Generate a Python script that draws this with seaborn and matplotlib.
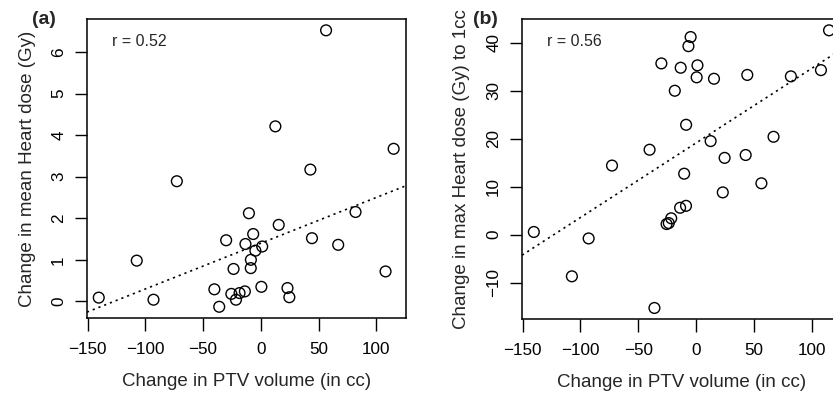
import matplotlib
matplotlib.use("Agg")
import matplotlib.pyplot as plt
import numpy as np
import seaborn as sns

# change in PTV volume (cc), shared by both panels
ptv_change = [115, 108, 82, 67, 56.5, 44.3, 42.9, 24.7, 23.1, 15.5, 12.6,
              1.2, 0.5, -4.7, -6.6, -8.6, -8.7, -10.3, -13.3, -13.8, -18.4,
              -21.5, -23.6, -25.5, -30.0, -36.0, -40.2, -72.7, -92.9, -107.4, -140.3]
# change in mean heart dose (Gy)
mean_heart = [3.67, 0.72, 2.15, 1.36, 6.52, 1.52, 3.17, 0.10, 0.32, 1.84, 4.21,
              1.32, 0.35, 1.22, 1.62, 1.00, 0.80, 2.12, 1.38, 0.24, 0.20,
              0.04, 0.78, 0.18, 1.47, -0.13, 0.29, 2.89, 0.04, 0.98, 0.09]
# change in max heart dose (Gy) to 1cc
max_heart = [42.6, 34.3, 33.0, 20.4, 10.7, 33.3, 16.6, 16.0, 8.8, 32.5, 19.5,
             35.3, 32.8, 41.2, 39.3, 22.9, 6.0, 12.7, 34.8, 5.6, 30.0,
             3.4, 2.4, 2.2, 35.7, -15.3, 17.7, 14.4, -0.8, -8.7, 0.55]

x_ticks = [-150, -100, -50, 0, 50, 100]
a_yticks = [0, 1, 2, 3, 4, 5, 6]
b_yticks = [-10, 0, 10, 20, 30, 40]

sns.set_style("ticks")
plt.rcParams['font.family'] = ['Liberation Sans', 'DejaVu Sans']
plt.rcParams['axes.edgecolor'] = 'black'
plt.rcParams['xtick.color'] = 'black'
plt.rcParams['ytick.color'] = 'black'


def panel(ax, y, yticks, ylim, ylabel, r_text, tag, tag_x, ylabelpad):
    x = np.array(ptv_change)
    y = np.array(y)
    ax.set_xlim(-150.5, 125.7)
    ax.set_ylim(*ylim)
    sns.regplot(x=x, y=y, ax=ax, ci=None, truncate=False,
                scatter_kws=dict(color='black', facecolors='none', edgecolors='black',
                                 s=60, linewidths=1.0, alpha=1),
                line_kws=dict(color='black', linestyle=(0, (1.3, 2.4)), linewidth=1.2))
    ax.set_xlim(-150.5, 125.7)
    ax.set_ylim(*ylim)
    ax.set_xticks(x_ticks)
    ax.set_xticklabels([str(t).replace('-', '\u2212') for t in x_ticks])
    ax.set_yticks(yticks)
    ax.set_yticklabels([str(t).replace('-', '\u2212') for t in yticks],
                       rotation=90, va='center')
    ax.tick_params(length=9, width=1.0, labelsize=12.3)
    ax.tick_params(axis='x', pad=8)
    ax.tick_params(axis='y', pad=6)
    for s in ax.spines.values():
        s.set_linewidth(1.1)
        s.set_visible(True)
    ax.set_xlabel('Change in PTV volume (in cc)', fontsize=13.5, labelpad=12)
    ax.set_ylabel(ylabel, fontsize=13.5, labelpad=ylabelpad)
    ax.text(0.077, 0.926, r_text, transform=ax.transAxes, va='center',
            ha='left', fontsize=11.5)
    ax.text(tag_x, 1.0, tag, transform=ax.transAxes, va='center',
            ha='left', fontsize=14, fontweight='bold')


fig = plt.figure(figsize=(8.33, 3.98), dpi=100)
ax1 = fig.add_axes([0.1044, 0.201, 0.383, 0.751])
ax2 = fig.add_axes([0.6267, 0.1985, 0.3834, 0.753])

panel(ax1, mean_heart, a_yticks, (-0.40, 6.79),
      'Change in mean Heart dose (Gy)', 'r = 0.52', '(a)', -0.172, 11)
panel(ax2, max_heart, b_yticks, (-17.6, 44.9),
      'Change in max Heart dose (Gy) to 1cc', 'r = 0.56', '(b)', -0.153, 12)

fig.savefig('out.png', dpi=100)
